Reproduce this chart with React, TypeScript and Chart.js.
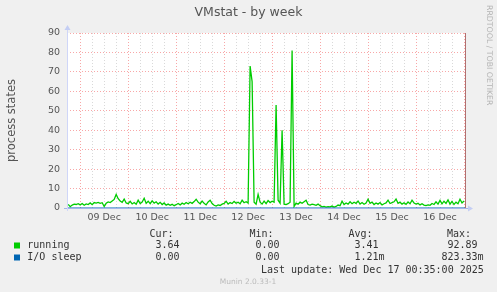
import { useEffect, useRef } from "react";
import { Chart, registerables } from "chart.js";

Chart.register(...registerables);

// Hours relative to 09 Dec 00:00 for the first sample; one sample per hour.
const startHour = -6;
const running = [
  1.9, 0.7, 1.5, 2.0, 1.8, 2.2,
  1.6, 2.3, 1.4, 2.1, 1.8, 2.6, 1.7, 2.8, 2.5, 2.9, 2.4, 2.7, 0.8, 2.4, 3.1, 2.8, 3.6, 4.4, 7.0, 4.8, 3.6, 2.9, 4.6, 2.6,
  2.2, 3.4, 2.1, 2.8, 1.9, 4.0, 2.3, 3.1, 5.0, 2.4, 3.5, 2.2, 3.7, 2.5, 3.2, 2.0, 2.9, 1.8, 2.6, 1.5, 2.0, 1.4, 1.9, 1.2,
  1.7, 2.3, 1.6, 2.5, 1.9, 2.8, 2.2, 3.0, 2.4, 3.3, 4.5, 3.0, 2.2, 3.6, 2.4, 1.6, 3.1, 4.0, 2.3, 1.4, 1.0, 1.6, 1.3, 2.0,
  2.4, 3.5, 2.0, 2.8, 2.3, 3.4, 2.5, 3.0, 2.2, 4.0, 2.7, 3.2, 2.5, 73.0, 65.0, 3.0, 2.0, 7.0, 3.0, 2.0, 3.5, 2.2, 3.8, 2.8,
  3.5, 3.0, 53.0, 4.0, 2.5, 40.0, 2.0, 1.8, 2.2, 3.0, 81.0, 0.8, 2.5, 2.0, 3.0, 2.4, 3.2, 4.0, 1.8, 1.5, 2.0, 1.7, 1.4, 2.0,
  1.2, 0.6, 0.8, 0.5, 0.7, 0.6, 1.0, 0.5, 0.8, 1.5, 1.2, 3.5, 1.8, 2.6, 2.0, 3.2, 2.2, 3.0, 2.4, 3.6, 2.0, 2.8, 1.9, 2.5,
  4.5, 2.4, 3.0, 1.8, 2.6, 2.0, 2.8, 1.6, 2.2, 2.6, 4.0, 2.3, 2.8, 3.2, 4.6, 2.4, 3.0, 2.0, 2.7, 1.9, 3.1, 2.2, 4.0, 2.6,
  2.0, 2.4, 1.6, 2.2, 1.5, 1.2, 1.6, 1.4, 2.3, 1.8, 3.2, 2.0, 3.9, 2.1, 3.5, 2.4, 4.2, 2.0, 3.4, 1.8, 3.0, 2.2, 4.5, 2.6, 3.6,
];
const ioSleepHours = [-6.6, 192.5];
const ioSleep = [0, 0];

const dayLabels = ["09 Dec", "10 Dec", "11 Dec", "12 Dec", "13 Dec", "14 Dec", "15 Dec", "16 Dec"];
const xMin = -6.6;
const xMax = 192.5;
const yMin = 0;
const yMax = 90;

const legendNames = ["running", "I/O sleep"];
const legendColors = ["#00cc00", "#0066b3"];
const curVals = ["3.64", "0.00"];
const minVals = ["0.00", "0.00"];
const avgVals = ["3.41", "1.21m"];
const maxVals = ["92.89", "823.33m"];
const lastUpdate = "Last update: Wed Dec 17 00:35:00 2025";
const title = "VMstat - by week";
const yTitle = "process states";
const watermark = "RRDTOOL / TOBI OETIKER";
const version = "Munin 2.0.33-1";

const RED = "rgba(245,120,120,0.65)";
const GRAY = "rgba(185,185,185,0.55)";
const FONT = "DejaVu Sans";
const MONO = "DejaVu Sans Mono";

const muninPlugin = {
  id: "munin",
  beforeDraw(chart: any) {
    const { ctx, chartArea } = chart;
    ctx.save();
    ctx.fillStyle = "#f0f0f0";
    ctx.fillRect(0, 0, chart.width, chart.height);
    ctx.fillStyle = "#ffffff";
    ctx.fillRect(chartArea.left, chartArea.top, chartArea.right - chartArea.left, chartArea.bottom - chartArea.top);
    ctx.restore();
  },
  afterDatasetsDraw(chart: any) {
    const { ctx, chartArea } = chart;
    const { left, right, top, bottom } = chartArea;
    ctx.save();
    ctx.strokeStyle = "#b07070";
    ctx.lineWidth = 1;
    ctx.beginPath();
    ctx.moveTo(right + 0.5, top);
    ctx.lineTo(right + 0.5, bottom);
    ctx.stroke();
    ctx.strokeStyle = "#a3b5ea";
    ctx.beginPath();
    ctx.moveTo(left - 3, bottom + 0.5);
    ctx.lineTo(right + 3, bottom + 0.5);
    ctx.stroke();
    ctx.strokeStyle = "#cfd6f8";
    ctx.beginPath();
    ctx.moveTo(left + 0.5, bottom + 3);
    ctx.lineTo(left + 0.5, top - 3);
    ctx.stroke();
    ctx.fillStyle = "#c4cef4";
    ctx.beginPath();
    ctx.moveTo(right + 8, bottom + 0.5);
    ctx.lineTo(right + 3, bottom - 2.5);
    ctx.lineTo(right + 3, bottom + 3.5);
    ctx.closePath();
    ctx.fill();
    ctx.beginPath();
    ctx.moveTo(left + 0.5, top - 8);
    ctx.lineTo(left - 2.5, top - 3);
    ctx.lineTo(left + 3.5, top - 3);
    ctx.closePath();
    ctx.fill();
    ctx.restore();
  },
  afterDraw(chart: any) {
    const { ctx } = chart;
    ctx.save();
    ctx.textBaseline = "middle";
    ctx.fillStyle = "#555555";
    ctx.font = `12.5px "${FONT}"`;
    ctx.textAlign = "center";
    ctx.fillText(title, 248.5, 13);
    ctx.save();
    ctx.translate(489, 5);
    ctx.rotate(Math.PI / 2);
    ctx.textAlign = "left";
    ctx.fillStyle = "#b4b4b4";
    ctx.font = `7.8px "${FONT}"`;
    ctx.fillText(watermark, 0, 0);
    ctx.restore();
    ctx.font = `10px "${MONO}"`;
    ctx.fillStyle = "#333333";
    ctx.textAlign = "left";
    ctx.fillText("Cur:", 149.5, 234);
    ctx.fillText("Min:", 249.5, 234);
    ctx.fillText("Avg:", 348.5, 234);
    ctx.fillText("Max:", 447, 234);
    const rowY = [245.5, 257.5];
    const cw = 6.02;
    for (let i = 0; i < legendNames.length; i++) {
      const y = rowY[i];
      ctx.fillStyle = legendColors[i];
      ctx.fillRect(14, y - 3, 6, 6);
      ctx.fillStyle = "#333333";
      ctx.fillText(legendNames[i], 27.3, y);
      const put = (s: string, rightEdge: number) => {
        const digits = s.replace(/[a-zA-Z]$/, "");
        ctx.fillText(s, rightEdge - digits.length * cw, y);
      };
      put(curVals[i], 179.5);
      put(minVals[i], 279.5);
      put(avgVals[i], 378.5);
      put(maxVals[i], 477.5);
    }
    ctx.fillText(lastUpdate, 261, 270);
    ctx.font = `7.5px "${FONT}"`;
    ctx.fillStyle = "#bbbbbb";
    ctx.textAlign = "center";
    ctx.fillText(version, 248, 282);
    ctx.restore();
  },
};

export default function App() {
  const canvasRef = useRef<HTMLCanvasElement | null>(null);

  useEffect(() => {
    const canvas = canvasRef.current;
    if (!canvas) return;
    const runningData = running.map((v, i) => ({ x: startHour + i, y: v }));
    const ioData = ioSleep.map((v, i) => ({ x: ioSleepHours[i], y: v }));
    const xTickHours: number[] = [];
    for (let h = 0; h <= 192; h += 6) xTickHours.push(h);

    const chart = new Chart(canvas, {
      type: "line",
      data: {
        datasets: [
          {
            label: legendNames[1],
            data: ioData,
            borderColor: legendColors[1],
            borderWidth: 1,
            pointRadius: 0,
            tension: 0,
          },
          {
            label: legendNames[0],
            data: runningData,
            borderColor: legendColors[0],
            borderWidth: 1.3,
            pointRadius: 0,
            tension: 0,
          },
        ],
      },
      options: {
        responsive: false,
        animation: false,
        devicePixelRatio: 1,
        layout: { padding: { left: 0, top: 33, right: 32, bottom: 0 } },
        plugins: {
          legend: { display: false },
          tooltip: { enabled: false },
          title: { display: false },
        },
        scales: {
          x: {
            type: "linear",
            min: xMin,
            max: xMax,
            afterBuildTicks: (s: any) => {
              s.ticks = xTickHours.map((v) => ({ value: v }));
            },
            afterFit: (s: any) => {
              s.height = 84;
            },
            grid: {
              drawTicks: false,
              color: (c: any) => (c.tick && c.tick.value % 24 === 0 ? RED : GRAY),
              lineWidth: 1,
            },
            border: { display: false, dash: [1, 2] },
            ticks: {
              autoSkip: false,
              maxRotation: 0,
              minRotation: 0,
              padding: 4,
              color: "#555555",
              font: { family: FONT, size: 9.5 },
              callback: (v: any) => {
                const n = Number(v);
                return n % 24 === 12 ? dayLabels[(n - 12) / 24] ?? "" : "";
              },
            },
          },
          y: {
            type: "linear",
            min: yMin,
            max: yMax,
            afterFit: (s: any) => {
              s.width = 67;
            },
            grid: {
              drawTicks: false,
              color: (c: any) => (c.tick && c.tick.value % 10 === 0 ? RED : GRAY),
              lineWidth: 1,
            },
            border: { display: false, dash: [1, 2] },
            title: {
              display: true,
              text: yTitle,
              color: "#555555",
              font: { family: FONT, size: 11.5 },
              padding: { top: 5, bottom: 0 },
            },
            ticks: {
              stepSize: 5,
              padding: 7,
              color: "#555555",
              font: { family: FONT, size: 9.5 },
              callback: (v: any) => (Number(v) % 10 === 0 ? String(v) : ""),
            },
          },
        },
      },
      plugins: [muninPlugin],
    } as any);

    return () => chart.destroy();
  }, []);

  return (
    <div style={{ position: "fixed", left: 0, top: 0, width: 497, height: 292, background: "#f0f0f0" }}>
      <canvas ref={canvasRef} width={497} height={292} style={{ width: 497, height: 292, display: "block" }} />
    </div>
  );
}
